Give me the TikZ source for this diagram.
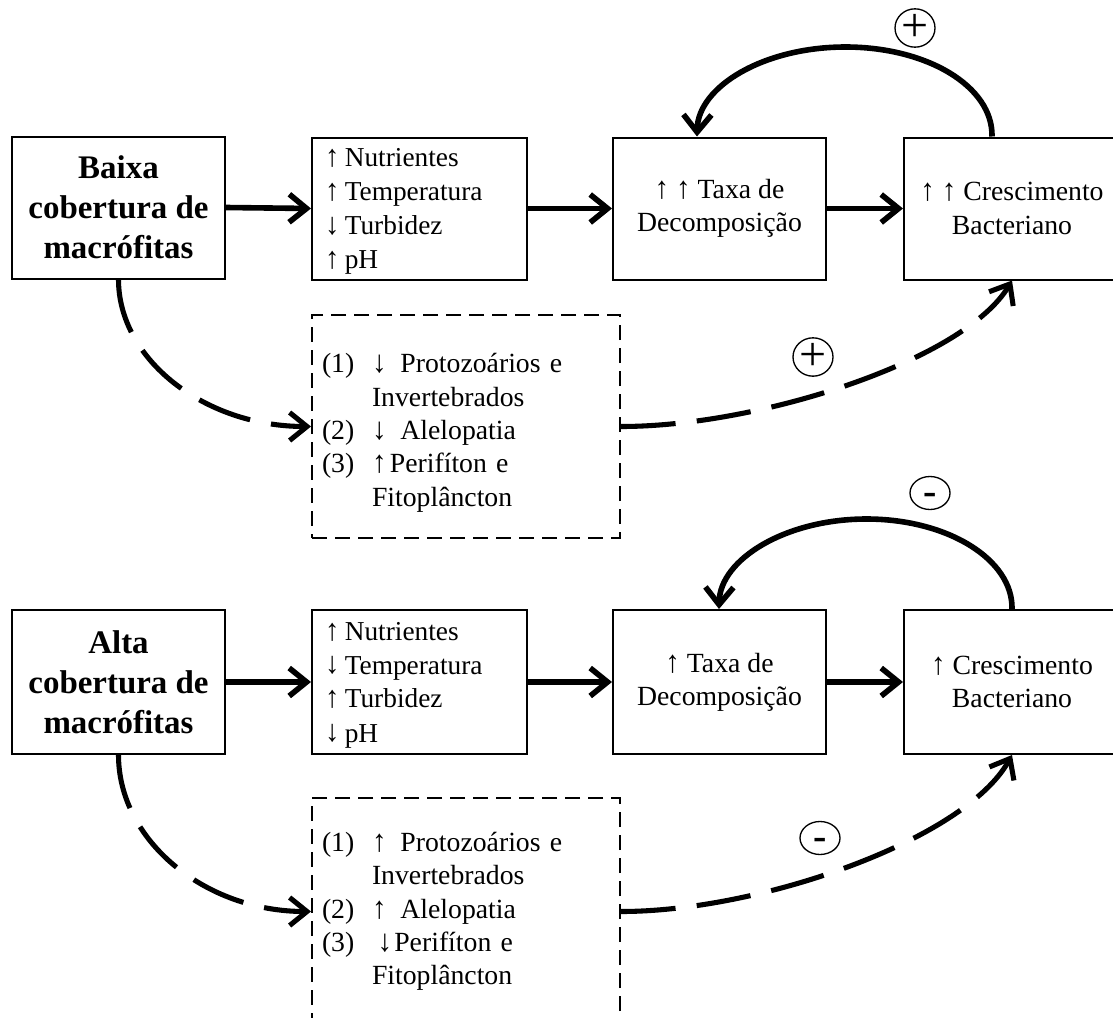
\documentclass[tikz,border=0pt]{standalone}
\usepackage{fontspec}
\setmainfont{Liberation Serif}
\usetikzlibrary{arrows.meta,shapes.geometric,calc}
\newcommand\numlab[1]{\makebox[37.5pt][l]{#1}}
\newcommand\ua{\scalebox{1.05}[1.12]{↑}}
\newcommand\da{\scalebox{1.05}[1.12]{↓}}
\tikzset{
  barb/.tip={Straight Barb[length=13pt,width=21pt]},
  mainbox/.style={draw, line width=1.5pt, rectangle, minimum width=159.75pt, minimum height=106.5pt, inner sep=0pt, align=center, font=\fontsize{20.8pt}{25pt}\selectfont},
  leftbox/.style={mainbox, font=\fontsize{24.7pt}{30pt}\selectfont\bfseries},
  listbox/.style={draw, line width=1.5pt, rectangle, minimum height=106.5pt, inner xsep=9.75pt, inner ysep=0pt, text width=141.75pt, align=left, font=\fontsize{20.5pt}{25.5pt}\selectfont},
  dashbox/.style={draw, line width=1.5pt, dash pattern=on 11.25pt off 6pt, rectangle, minimum width=231pt, inner xsep=7.5pt, inner ysep=0pt, text width=216pt, align=left, font=\fontsize{20.8pt}{25pt}\selectfont},
  solidarrow/.style={line width=4.2pt, -barb},
  dasharrow/.style={line width=3.8pt, dash pattern=on 41pt off 16pt, -barb},
  sign/.style={draw, ellipse, line width=1pt, minimum width=30pt, minimum height=24.75pt, inner sep=0pt, font=\fontsize{36pt}{36pt}\selectfont},
}
\begin{document}
\begin{tikzpicture}[x=0.75pt,y=-0.75pt]
\useasboundingbox (0,0) rectangle (1113,1017);
\clip (0,0) rectangle (1113,1017);
\fill[white] (0,0) rectangle (1113,1017);

% ---------- top row ----------
\node[leftbox] (A1) at (118.5,207.5) {Baixa\\cobertura de\\macrófitas};
\node[listbox, minimum width=161.25pt] (B1) at (419.5,208.5) {\strut\ua\hspace{0.2em}Nutrientes\\\ua\hspace{0.2em}Temperatura\\\da\hspace{0.2em}Turbidez\\\ua\hspace{0.2em}pH};
\node[mainbox] (C1) at (719.5,208.5) {\ua\ \ua\ Taxa de\\Decomposição};
\node[mainbox, minimum width=162pt] (D1) at (1012,208.5) {\ua\ \ua\ Crescimento\\Bacteriano};
\node[dashbox, minimum height=167.25pt] (E1) at (466,426.5) {\rule{0pt}{1.15em}\numlab{(1)}\da\hspace{0.5em}Protozoários e\\
\hspace*{37.5pt}Invertebrados\\
\numlab{(2)}\da\hspace{0.5em}Alelopatia\\
\numlab{(3)}\ua\hspace{0.12em}Perifíton e\\
\hspace*{37.5pt}Fitoplâncton};

\draw[solidarrow] (A1.east) -- (B1.west);
\draw[solidarrow] (B1.east) -- (C1.west);
\draw[solidarrow] (C1.east) -- (D1.west);
\draw[solidarrow] ($(D1.north west)+(89,0)$) .. controls (993,86.4) and (927,47) .. (845.5,47)
  .. controls (764,47) and (698,86.4) .. ($(C1.north west)+(85,0)$);
\draw[dasharrow] (A1.south) .. controls (118.5,359.3) and (204.4,426.5) .. (E1.west);
\draw[dasharrow] (E1.east) .. controls (760,426.5) and (965,360) .. (D1.south);
\node[sign] (P1) at (915,28) {+};
\node[sign] (P2) at (813,357) {+};

% ---------- bottom row ----------
\node[leftbox, minimum height=108pt] (A2) at (118.5,682) {Alta\\cobertura de\\macrófitas};
\node[listbox, minimum width=161.25pt, minimum height=108pt] (B2) at (419.5,682) {\strut\ua\hspace{0.2em}Nutrientes\\\da\hspace{0.2em}Temperatura\\\ua\hspace{0.2em}Turbidez\\\da\hspace{0.2em}pH};
\node[mainbox, minimum height=108pt] (C2) at (719.5,682) {\ua\ Taxa de\\Decomposição};
\node[mainbox, minimum width=162pt, minimum height=108pt] (D2) at (1012,682) {\ua\ Crescimento\\Bacteriano};
\node[dashbox, minimum height=170.25pt] (E2) at (466,911.5) {\numlab{(1)}\ua\hspace{0.5em}Protozoários e\\
\hspace*{37.5pt}Invertebrados\\
\numlab{(2)}\ua\hspace{0.5em}Alelopatia\\
\numlab{(3)}\hspace{0.2em}\da\hspace{0.08em}Perifíton e\\
\hspace*{37.5pt}Fitoplâncton};

\draw[solidarrow] (A2.east) -- (B2.west);
\draw[solidarrow] (B2.east) -- (C2.west);
\draw[solidarrow] (C2.east) -- (D2.west);
\draw[solidarrow] ($(D2.north west)+(109,0)$) .. controls (1013,559.3) and (947.4,519) .. (866.5,519)
  .. controls (785.6,519) and (720,559.3) .. ($(C2.north west)+(107,0)$);
\draw[dasharrow] (A2.south) .. controls (118.5,840.5) and (205,911.5) .. (E2.west);
\draw[dasharrow] (E2.east) .. controls (760,911.5) and (965,840) .. (D2.south);
\node[sign, font=\fontsize{30pt}{30pt}\selectfont\bfseries] (M1) at (930,493) {\rule{0pt}{0.58em}-};
\node[sign, font=\fontsize{30pt}{30pt}\selectfont\bfseries] (M2) at (820,838) {\rule{0pt}{0.58em}-};
\end{tikzpicture}
\end{document}
